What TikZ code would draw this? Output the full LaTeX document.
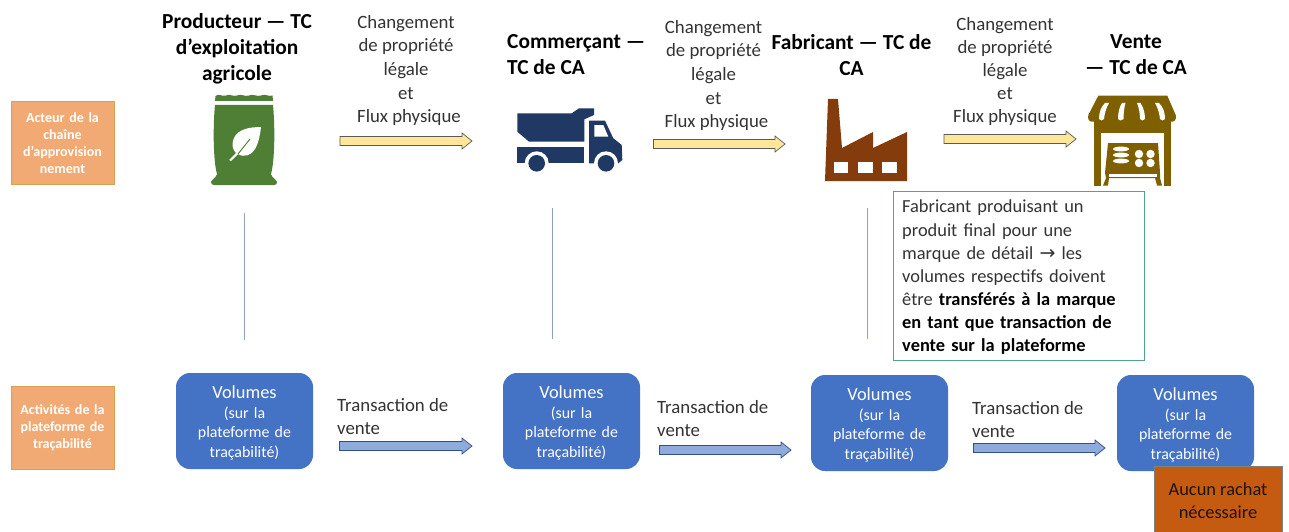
\documentclass[tikz,border=0pt]{standalone}
\usepackage{fontspec}
\setmainfont{Carlito}
\newfontfamily\symfont{DejaVu Sans}
\usetikzlibrary{calc}
\definecolor{orbox}{HTML}{F2AA74}
\definecolor{orline}{HTML}{D6A24E}
\definecolor{volblue}{HTML}{4472C4}
\definecolor{yelarrow}{HTML}{FFE699}
\definecolor{bluearrow}{HTML}{8FAADC}
\definecolor{txt}{HTML}{333333}
\definecolor{bagc}{HTML}{4E7F35}
\definecolor{truckc}{HTML}{1F3864}
\definecolor{facc}{HTML}{843C0C}
\definecolor{shopc}{HTML}{7F6000}
\definecolor{guidec}{HTML}{8EA2BE}
\definecolor{notec}{HTML}{4FA58A}
\definecolor{rustc}{HTML}{C55A11}
\tikzset{
 x=1pt,y=-1pt,
 rolebox/.style={draw=orline,fill=orbox,line width=0.8pt,text=white,font=\fontsize{14}{17.2}\selectfont\bfseries,align=center,inner sep=0pt,text width=100pt,minimum width=103pt,minimum height=83pt},
 volbox/.style={fill=volblue,rounded corners=14pt,minimum width=137pt,minimum height=96pt,inner sep=0pt,text=white,align=center,text width=125pt,font=\fontsize{15.9}{19.6}\selectfont},
 heading/.style={font=\fontsize{21.4}{26}\selectfont\bfseries,text=black,align=center,inner sep=0pt},
 flowtext/.style={font=\fontsize{18.8}{23.6}\selectfont,text=txt,align=center,inner sep=0pt},
 saletext/.style={font=\fontsize{18.8}{23}\selectfont,text=txt,align=left,inner sep=0pt,anchor=west},
 blockyel/.style={draw=black!65,fill=yelarrow,line width=0.7pt},
 blockblue/.style={draw=volblue!70!black,fill=bluearrow,line width=0.7pt},
 guide/.style={draw=guidec,line width=0.8pt},
}
\newcommand{\blockarrow}[3]{%
 \draw[#3] ($(#1)+(0,-4.5)$) -- ($(#2)+(-10,-4.5)$) -- ($(#2)+(-10,-8)$) -- (#2) -- ($(#2)+(-10,8)$) -- ($(#2)+(-10,4.5)$) -- ($(#1)+(0,4.5)$) -- cycle;}
\newcommand{\voltext}{\rule{0pt}{16.5pt}{\fontsize{18.4}{19.6}\selectfont Volumes}\\(sur la\\plateforme de\\traçabilité)}
\begin{document}
\begin{tikzpicture}
\useasboundingbox (0,0) rectangle (1289,532);
\fill[white] (0,0) rectangle (1289,532);
% left role boxes
\node[rolebox] (acteur) at (62.5,143) {Acteur de la\\chaîne\\d’approvision\\nement};
\node[rolebox] (activ) at (62.5,427.5) {Activités de la\\plateforme de\\traçabilité};
% headings
\node[heading] (h1) at (237,48.5) {Producteur — TC\\d’exploitation\\agricole};
\node[heading,align=left,anchor=west] (h2) at (507,55) {Commerçant —\\TC de CA};
\node[heading] (h3) at (851.5,55) {Fabricant — TC de\\CA};
\node[heading] (h4) at (1136,55) {Vente\\— TC de CA};
% flow texts
\node[flowtext] (f1) at (406,70.5) {Changement\\de propriété\\légale\\et\\\hspace*{6pt}Flux physique};
\node[flowtext] (f2) at (713.5,75.5) {Changement\\de propriété\\légale\\et\\\hspace*{6pt}Flux physique};
\node[flowtext,font=\fontsize{18.8}{22.8}\selectfont] (f3) at (1005,71.5) {Changement\\de propriété\\légale\\et\\Flux physique};
% yellow arrows
\coordinate (ya1) at (340,141); \coordinate (yb1) at (472,141);
\coordinate (ya2) at (653.5,144); \coordinate (yb2) at (785,144);
\coordinate (ya3) at (944,139); \coordinate (yb3) at (1076,139);
\blockarrow{ya1}{yb1}{blockyel}
\blockarrow{ya2}{yb2}{blockyel}
\blockarrow{ya3}{yb3}{blockyel}
% bag icon
\fill[bagc] (215,101) -- (215.5,96) .. controls (219,93) and (222,97) .. (226,95.5) .. controls (230,93.5) and (233,97) .. (237,95.5) .. controls (241,93.5) and (245,97) .. (249,95.5) .. controls (253,93.5) and (257,97) .. (261,95.5) .. controls (265,93.5) and (269,97) .. (272.5,95.5) -- (273,101) -- cycle;
\fill[bagc] (215,105) -- (273,105) .. controls (275,125) and (275,160) .. (271,174) .. controls (272,178) and (276,179) .. (277,182) .. controls (277,184) and (276,185) .. (274,185) -- (214,185) .. controls (212,185) and (211,184) .. (211,182) .. controls (212,179) and (216,178) .. (217,174) .. controls (213,160) and (213,125) .. (215,105) -- cycle;
\fill[white] (261,127) .. controls (250,127) and (238,129) .. (234,138) .. controls (231,145) and (233,150) .. (236,153) -- (229,160) -- (231,161) -- (238,154) .. controls (244,158) and (252,155) .. (255,149) .. controls (259,142) and (260,135) .. (261,127) -- cycle;
\draw[bagc,line width=0.9pt] (238,154) -- (250,139);
% truck icon
\fill[truckc] (517.3,113.3) -- (571.7,113.3) -- (579,108.3) -- (594,108.3) -- (594,115) -- (584.3,119.3) -- (584.3,141.7) -- (529,141.7) -- (517.3,131.7) -- cycle;
\fill[truckc] (517.3,146.7) rectangle (584.3,163.3);
\fill[truckc] (589,120.7) -- (605,120.7) -- (613.3,138.3) -- (621.7,145) -- (622.3,160) -- (618.3,163.3) -- (589,163.3) -- cycle;
\fill[white] (594.3,125) -- (603.3,125) -- (608.3,136.7) -- (594.3,136.7) -- cycle;
\fill[white] (536.7,163.3) circle (12);
\fill[white] (606,163.3) circle (12);
\fill[truckc] (536.7,163.3) circle (8.3);
\fill[truckc] (606,163.3) circle (8.3);
% factory icon
\fill[facc] (828,99) -- (838,99) -- (842,148) -- (873,132) -- (873,148) -- (907,132) -- (907,181) -- (825,181) -- cycle;
\fill[white] (834,162) rectangle (848,173);
\fill[white] (858,162) rectangle (873,173);
\fill[white] (882,162) rectangle (897,173);
% shop icon
\fill[shopc] (1098.3,95.7) -- (1167.3,95.7) -- (1175.7,115) .. controls (1176.5,119) and (1175,121.7) .. (1172,121.7) -- (1092,121.7) .. controls (1089,121.7) and (1087.5,119) .. (1088.3,115) -- cycle;
\fill[white] (1105,103) -- (1109,103) .. controls (1106,108) and (1104.5,114) .. (1104,119) .. controls (1103,121) and (1100,121) .. (1099,119) .. controls (1099,112) and (1101,107) .. (1105,103) -- cycle;
\fill[white] (1122,103) -- (1125.5,103) .. controls (1124,108) and (1123.5,114) .. (1123.5,119) .. controls (1122,121) and (1119,121) .. (1118,119) .. controls (1118,112) and (1119.5,107) .. (1122,103) -- cycle;
\fill[white] (1137,103) -- (1140.5,103) .. controls (1143,107) and (1145,112) .. (1145,119) .. controls (1144,121) and (1141,121) .. (1140,119) .. controls (1140,114) and (1139,108) .. (1137,103) -- cycle;
\fill[white] (1155,103) -- (1159,103) .. controls (1163,107) and (1165,112) .. (1165,119) .. controls (1164,121) and (1161,121) .. (1160,119) .. controls (1159.5,114) and (1158,108) .. (1155,103) -- cycle;
\fill[shopc] (1094,121) rectangle (1171,133);
\fill[shopc] (1094,133) rectangle (1100.7,185.5);
\fill[shopc] (1163.5,133) rectangle (1171,185.5);
\fill[shopc] (1108,143) -- (1158,143) -- (1160,173) -- (1160,178) -- (1162,185.5) -- (1157,185.5) -- (1155,178) -- (1109,178) -- (1108,185.5) -- (1103,185.5) -- (1106,178) -- (1105,173) -- cycle;
\fill[white] (1108.5,174) rectangle (1156.5,177.3);
\foreach \by in {149,155,161}{\fill[white] (1121,\by) ellipse (8 and 2.4);}
\foreach \cx/\cy in {1139/154,1150.5/154,1139/163,1150.5/163}{\fill[white] (\cx,\cy) circle (4.2);}
% guide lines
\coordinate (g1a) at (244.5,213); \coordinate (g1b) at (244.5,340);
\coordinate (g2a) at (552,208); \coordinate (g2b) at (552,339);
\coordinate (g3a) at (867.5,208); \coordinate (g3b) at (867.5,339);
\draw[guide] (g1a) -- (g1b);
\draw[guide] (g2a) -- (g2b);
\draw[guide] (g3a) -- (g3b);
% note
\node[draw=notec,line width=0.9pt,fill=white,minimum width=251pt,minimum height=169pt,inner sep=0pt,anchor=north west] (note) at (893,191) {};
\node[anchor=north west,inner sep=0pt,text width=238pt,align=left,font=\fontsize{18.4}{23.1}\selectfont,text=txt] (notetext) at (902,200) {Fabricant produisant un\\produit final pour une\\marque de détail {\symfont\fontsize{19}{23.1}\selectfont →} les\\volumes respectifs doivent\\être \textbf{\textcolor{black}{transférés à la marque}}\\\textbf{\textcolor{black}{en tant que transaction de}}\\\textbf{\textcolor{black}{vente sur la plateforme}}};
% volumes
\node[volbox] (v1) at (244.5,421) {\voltext};
\node[volbox] (v2) at (571.5,421) {\voltext};
\node[volbox] (v3) at (879.5,423) {\voltext};
\node[volbox] (v4) at (1185.5,423) {\voltext};
% sale texts
\node[saletext] (s1) at (337,416.5) {Transaction de\\vente};
\node[saletext] (s2) at (657,418.5) {Transaction de\\vente};
\node[saletext] (s3) at (972,419.5) {Transaction de\\vente};
% blue arrows
\coordinate (ba1) at (339.5,446); \coordinate (bb1) at (472,446);
\coordinate (ba2) at (659.5,450); \coordinate (bb2) at (791,450);
\coordinate (ba3) at (973.5,448); \coordinate (bb3) at (1105,448);
\blockarrow{ba1}{bb1}{blockblue}
\blockarrow{ba2}{bb2}{blockblue}
\blockarrow{ba3}{bb3}{blockblue}
% no buyback
\node[draw=black!50,line width=0.8pt,fill=rustc,minimum width=128pt,minimum height=66pt,inner sep=0pt,align=center,font=\fontsize{18.4}{23}\selectfont,text=black!85!brown] (none) at (1218,499) {\rule{0pt}{17pt}Aucun rachat\\nécessaire};
\end{tikzpicture}
\end{document}
